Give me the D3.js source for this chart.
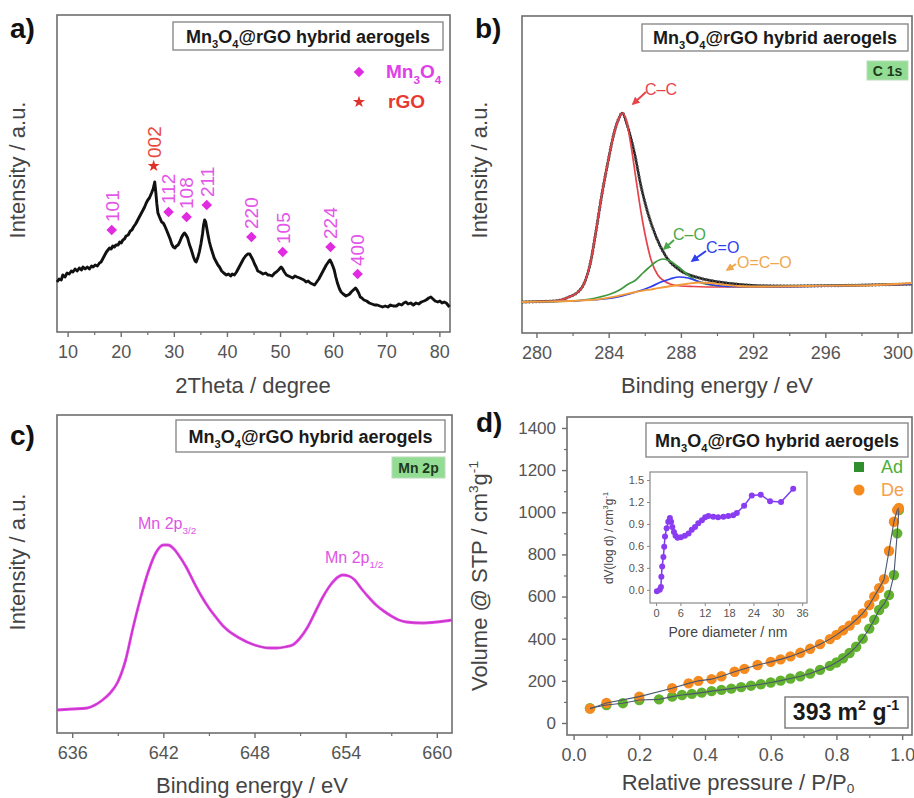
<!DOCTYPE html>
<html>
<head>
<meta charset="utf-8">
<script src="https://cdn.jsdelivr.net/npm/d3@7"></script>
<style>
  body { margin: 0; background: #fff; }
  svg { display: block; }
  text { font-family: "Liberation Sans", Arial, Helvetica, sans-serif; }
</style>
</head>
<body>
<svg id="fig" width="914" height="798"></svg>
<script>
// ---------- (a) XRD pattern: [2theta, intensity a.u.] ----------
const xrdPattern = [
  [8.0,50],[8.4,53],[8.8,52],[9.1,57],[9.5,55],[9.9,59],[10.3,58],[10.7,61],[11.0,60],[11.4,63],
  [11.8,61],[12.2,64],[12.6,62],[12.9,65],[13.3,63],[13.7,65],[14.1,63],[14.5,66],[14.8,65],[15.2,67],
  [15.6,66],[16.0,69],[16.3,70],[16.7,74],[17.0,77],[17.3,80],[17.6,82],[17.9,84],[18.2,83],[18.5,86],
  [18.8,85],[19.1,87],[19.5,87],[19.8,90],[20.1,89],[20.4,92],[20.7,93],[21.0,96],[21.4,97],[21.8,101],
  [22.1,102],[22.4,105],[22.8,108],[23.1,111],[23.5,115],[23.8,118],[24.2,122],[24.5,125],[24.8,129],[25.1,132],
  [25.4,134],[25.8,139],[26.1,143],[26.4,150],[26.6,140],[26.8,128],[27.0,119],[27.3,115],[27.7,110],[28.0,109],
  [28.3,106],[28.7,101],[29.0,97],[29.3,93],[29.6,88],[29.9,85],[30.2,84],[30.5,86],[30.8,87],[31.1,90],
  [31.4,94],[31.7,97],[32.0,99],[32.3,97],[32.6,94],[32.9,88],[33.3,82],[33.7,75],[34.0,71],[34.2,70],
  [34.5,74],[34.8,80],[35.1,88],[35.4,98],[35.6,107],[35.8,112],[36.0,110],[36.2,104],[36.4,98],[36.7,90],
  [37.0,84],[37.3,79],[37.6,74],[38.0,70],[38.3,67],[38.6,65],[39.0,61],[39.4,59],[39.9,57],[40.3,58],
  [40.7,56],[41.0,58],[41.4,57],[41.8,60],[42.2,64],[42.7,69],[43.1,73],[43.5,76],[43.9,78],[44.3,78],
  [44.6,75],[44.9,72],[45.2,68],[45.5,65],[45.8,61],[46.2,60],[46.8,58],[47.3,59],[47.7,57],[48.0,57],
  [48.5,56],[49.0,59],[49.3,60],[49.7,62],[50.2,65],[50.5,63],[50.8,60],[51.2,57],[51.6,56],[52.0,55],
  [52.4,54],[52.8,56],[53.2,55],[53.7,54],[54.1,53],[54.5,52],[54.9,50],[55.3,51],[55.7,49],[56.1,48],
  [56.5,47],[56.9,50],[57.3,53],[57.7,57],[58.1,61],[58.4,64],[58.7,67],[59.1,70],[59.4,72],[59.7,69],
  [60.0,65],[60.2,62],[60.5,55],[60.8,49],[61.2,43],[61.5,40],[61.9,38],[62.4,36],[62.8,37],[63.1,38],
  [63.4,40],[63.8,42],[64.2,44],[64.5,42],[64.8,39],[65.1,35],[65.4,34],[65.8,32],[66.3,31],[66.8,29],
  [67.3,28],[67.8,27],[68.3,27],[68.8,26],[69.3,25],[69.8,26],[70.3,25],[70.8,27],[71.3,26],[71.9,26],
  [72.4,28],[72.9,27],[73.3,29],[73.7,30],[74.1,28],[74.6,29],[75.1,27],[75.6,29],[76.1,28],[76.6,30],
  [77.1,31],[77.5,32],[78.0,34],[78.4,35],[78.8,33],[79.2,31],[79.7,30],[80.1,31],[80.5,29],[80.9,30],
  [81.3,29],[81.6,27],[81.9,25]
];
const hklLabels = ["101","002","112","108","211","220","105","224","400"];
const hklPhase  = ["Mn3O4","rGO","Mn3O4","Mn3O4","Mn3O4","Mn3O4","Mn3O4","Mn3O4","Mn3O4"];
const hklTheta  = [18.3, 26.2, 29.0, 32.4, 36.2, 44.6, 50.5, 59.5, 64.6];
const hklMark   = [102, 166, 120, 115, 127, 95, 80, 85, 58];
const thetaTicks = [10,20,30,40,50,60,70,80];
const thetaMinor = [15,25,35,45,55,65,75];

// ---------- (b) C 1s spectrum: [binding energy, intensity a.u.] ----------
const c1sEnvelope = [
  [279.2,31],[281.0,32],[281.8,36],[282.3,41],[282.6,48],[283.0,71],[283.3,102],[283.6,136],[283.95,170],
  [284.3,200],[284.6,216],[284.75,220],[285.06,206],[285.43,180],[285.8,146],[286.17,120],[286.63,96],
  [287.19,76],[287.92,63],[289.03,55],[290.51,50],[292.35,47.3],[294.0,47],[297.0,47.5],[300.8,49]
];
const c1sCC = [
  [279.2,31],[281.0,32],[281.8,36],[282.3,41],[282.6,48],[283.0,71],[283.3,102],[283.6,136],[283.95,170],
  [284.3,200],[284.6,216],[284.75,220],[284.97,213],[285.25,186],[285.52,153],[285.8,120],[286.08,93],
  [286.35,73],[286.72,58],[287.0,53],[287.4,49],[288.0,47],[288.7,46.5],[290.0,46],[292.0,46],[296.0,47],[300.8,49]
];
const c1sCO = [
  [279.2,31],[282.0,32],[283.0,34],[283.5,36],[284.1,39],[284.6,43],[285.1,49],[285.5,53],[285.9,60],
  [286.2,65],[286.6,71],[287.0,74],[287.4,72],[287.8,67],[288.2,61],[288.6,55],[289.0,51],[289.5,48.5],
  [290.2,47],[291.0,46.5],[293.0,46.5],[296.0,47],[300.8,49]
];
const c1sCdO = [
  [279.2,31],[283.0,33],[284.5,36],[285.5,41],[286.3,46],[286.9,51],[287.4,54],[287.9,56],[288.4,55],
  [288.9,52],[289.5,49],[290.2,47],[291.0,46.5],[294.0,46.5],[300.8,49]
];
const c1sOCO = [
  [279.2,31],[283.0,33],[284.5,37],[285.5,41],[286.5,44],[287.5,47],[288.3,49],[289.0,50.5],[289.6,50],
  [290.3,48.5],[291.2,47],[292.5,46.5],[295.0,47],[298.0,47.5],[300.8,50]
];
const beTicksB = [280,284,288,292,296,300];
const beMinorB = [282,286,290,294,298];

// ---------- (c) Mn 2p spectrum: [binding energy, intensity a.u.] ----------
const mn2p = [
  [635,23],[636,24],[637,25],[637.5,28],[638,33],[638.5,40],[639,51],[639.5,72],[640,105],[640.5,135],
  [641,161],[641.5,180],[642,188],[642.3,188],[642.7,184],[643,178],[643.5,166],[644,151],[644.5,137],
  [645,125],[645.5,115],[646,106],[647,95],[648,88],[649,85],[649.5,85],[650,86],[650.5,88],[651,95],
  [651.5,106],[652,121],[652.5,136],[653,148],[653.5,156],[653.8,158],[654.2,157],[654.6,153],[655,145],
  [655.5,136],[656,128],[656.5,122],[657,117],[657.5,113],[658,111],[659,110],[660,111],[661,113]
];
const beTicksC = [636,642,648,654,660];
const beMinorC = [639,645,651,657];

// ---------- (d) N2 isotherm: [P/P0, volume cm3/g] ----------
const adsorption = [
  [0.05,70],[0.10,85],[0.15,94],[0.20,109],[0.26,112],[0.30,125],[0.33,133],[0.36,138],[0.39,144],
  [0.42,151],[0.45,157],[0.48,163],[0.51,170],[0.54,177],[0.57,184],[0.60,192],[0.63,201],[0.66,211],
  [0.69,222],[0.72,235],[0.75,252],[0.78,271],[0.80,287],[0.82,307],[0.84,332],[0.86,362],[0.88,400],
  [0.90,448],[0.915,490],[0.93,536],[0.945,565],[0.96,607],[0.975,702],[0.985,900],[0.99,1010]
];
const desorption = [
  [0.05,68],[0.10,95],[0.20,125],[0.30,165],[0.35,188],[0.38,200],[0.42,208],[0.45,222],[0.49,243],
  [0.52,257],[0.56,275],[0.60,290],[0.63,302],[0.66,316],[0.69,333],[0.72,352],[0.75,374],[0.78,398],
  [0.80,418],[0.82,440],[0.84,462],[0.86,490],[0.88,520],[0.90,560],[0.915,600],[0.93,640],[0.945,682],
  [0.96,816],[0.975,955],[0.985,1010],[0.99,1020]
];
const ppTicks = [0,0.2,0.4,0.6,0.8,1.0];
const ppMinor = [0.1,0.3,0.5,0.7,0.9];
const volTicks = [0,200,400,600,800,1000,1200,1400];
const volMinor = [100,300,500,700,900,1100,1300];

// inset: pore size distribution [diameter nm, dV(log d)]
const poreDist = [
  [0.2,-0.02],[0.9,0.0],[1.2,0.04],[1.3,0.18],[1.5,0.32],[1.8,0.45],[2.0,0.59],[2.2,0.73],[2.6,0.84],
  [3.0,0.93],[3.4,0.98],[3.7,0.93],[4.0,0.86],[4.4,0.79],[4.8,0.74],[5.3,0.71],[6.1,0.72],[7.1,0.74],
  [8.0,0.77],[8.8,0.82],[9.6,0.86],[10.4,0.91],[11.3,0.95],[12.1,0.99],[12.9,1.01],[14.1,1.00],
  [15.3,0.99],[16.6,1.00],[17.8,1.01],[19.0,1.02],[19.9,1.05],[21.7,1.15],[23.6,1.29],[25.8,1.30],
  [28.1,1.21],[30.8,1.20],[33.8,1.38]
];
const poreTicks = [0,6,12,18,24,30,36];
const dvTicks = [0,0.3,0.6,0.9,1.2,1.5];

// ---------- drawing ----------
const svg = d3.select("#fig");
const FRAME = "#6e6e6e", TICKTXT = "#555", TITLE = "#444";

function rich(sel, parts, fs, subShift) {
  // parts: [text, "n" | "sub" | "sup"]
  const sub = subShift === undefined ? 0.3 : subShift;
  let shift = 0;
  parts.forEach(([t, k]) => {
    const target = k === "sub" ? sub * fs : k === "sup" ? -0.42 * fs : 0;
    sel.append("tspan").attr("dy", target - shift)
      .attr("font-size", k === "n" ? fs : fs * 0.62).text(t);
    shift = target;
  });
  return sel;
}

function frame(x, y) {
  svg.append("rect")
    .attr("x", x.range()[0]).attr("y", y.range()[1])
    .attr("width", x.range()[1] - x.range()[0])
    .attr("height", y.range()[0] - y.range()[1])
    .attr("fill", "none").attr("stroke", FRAME).attr("stroke-width", 1.6);
}

function xAxis(x, yPix, majors, minors, fmt, fs, tick) {
  tick = tick || 5;
  const g = svg.append("g").attr("transform", `translate(0,${yPix})`)
    .call(d3.axisBottom(x).tickValues(majors).tickSize(tick).tickPadding(8).tickFormat(fmt));
  g.select(".domain").remove();
  g.selectAll("line").attr("stroke", FRAME).attr("stroke-width", 1.4);
  g.selectAll("text").attr("fill", TICKTXT).attr("font-size", fs)
    .attr("font-family", '"Liberation Sans", Arial, sans-serif');
  if (minors) {
    const m = svg.append("g").attr("transform", `translate(0,${yPix})`)
      .call(d3.axisBottom(x).tickValues(minors).tickSize(tick * 0.6).tickFormat(""));
    m.select(".domain").remove();
    m.selectAll("line").attr("stroke", FRAME).attr("stroke-width", 1.2);
  }
  return g;
}

function yAxisLeft(y, xPix, majors, minors, fmt, fs, tick, pad) {
  const g = svg.append("g").attr("transform", `translate(${xPix},0)`)
    .call(d3.axisLeft(y).tickValues(majors).tickSize(tick).tickPadding(pad).tickFormat(fmt));
  g.select(".domain").remove();
  g.selectAll("line").attr("stroke", FRAME).attr("stroke-width", 1.4);
  g.selectAll("text").attr("fill", TICKTXT).attr("font-size", fs)
    .attr("font-family", '"Liberation Sans", Arial, sans-serif');
  if (minors) {
    const m = svg.append("g").attr("transform", `translate(${xPix},0)`)
      .call(d3.axisLeft(y).tickValues(minors).tickSize(tick * 0.6).tickFormat(""));
    m.select(".domain").remove();
    m.selectAll("line").attr("stroke", FRAME).attr("stroke-width", 1.2);
  }
}

function xTitle(cx, cy, parts, subShift) {
  rich(svg.append("text").attr("x", cx).attr("y", cy).attr("text-anchor", "middle")
    .attr("fill", TITLE), parts, 22, subShift);
}
function yTitle(cx, cy, parts, fs, color) {
  rich(svg.append("text").attr("transform", `translate(${cx},${cy}) rotate(-90)`)
    .attr("text-anchor", "middle").attr("dy", "0.35em").attr("fill", color || TITLE), parts, fs || 22);
}
function panelLetter(x, y, s) {
  svg.append("text").attr("x", x).attr("y", y).attr("font-size", 28)
    .attr("font-weight", "bold").attr("fill", "#111").text(s);
}
function sampleBox(x0, y0, x1, y1) {
  svg.append("rect").attr("x", x0).attr("y", y0).attr("width", x1 - x0).attr("height", y1 - y0)
    .attr("fill", "#fff").attr("stroke", "#8a8a8a").attr("stroke-width", 1.4);
  const t = svg.append("text").attr("x", (x0 + x1) / 2).attr("y", (y0 + y1) / 2 + 6.5)
    .attr("text-anchor", "middle").attr("font-weight", "bold").attr("fill", "#1a1a1a");
  rich(t, [["Mn","n"],["3","sub"],["O","n"],["4","sub"],["@rGO hybrid aerogels","n"]], 18);
}
function tagBox(x0, y0, x1, y1, label) {
  svg.append("rect").attr("x", x0).attr("y", y0).attr("width", x1 - x0).attr("height", y1 - y0)
    .attr("fill", "#93dc93").attr("stroke", "#b9dcb9").attr("stroke-width", 1);
  svg.append("text").attr("x", (x0 + x1) / 2).attr("y", (y0 + y1) / 2 + 5)
    .attr("text-anchor", "middle").attr("font-weight", "bold").attr("font-size", 14)
    .attr("fill", "#1d3a1d").text(label);
}

// ===== panel a =====
{
  const x = d3.scaleLinear([8, 82], [57, 450]);
  const y = d3.scaleLinear([0, 317], [332, 15]);
  frame(x, y);
  xAxis(x, 332, thetaTicks, thetaMinor, d3.format("d"), 18);
  xTitle(253, 393, [["2Theta / degree","n"]]);
  yTitle(25, 170, [["Intensity / a.u.","n"]]);
  panelLetter(10, 38, "a)");

  svg.append("path").datum(xrdPattern)
    .attr("fill", "none").attr("stroke", "#111").attr("stroke-width", 2.9)
    .attr("stroke-linejoin", "round")
    .attr("d", d3.line().x(d => x(d[0])).y(d => y(d[1])));

  const diamond = d3.symbol().type(d3.symbolSquare).size(56);
  const star = d3.symbol().type(d3.symbolStar).size(45);
  hklLabels.forEach((lab, i) => {
    const px = x(hklTheta[i]), py = y(hklMark[i]);
    const isMn = hklPhase[i] === "Mn3O4";
    svg.append("path").attr("d", isMn ? diamond() : star())
      .attr("transform", `translate(${px},${py})` + (isMn ? " rotate(45)" : ""))
      .attr("fill", isMn ? "#e02be0" : "#e0302a");
    svg.append("text").attr("transform", `translate(${px},${py - 8}) rotate(-90)`)
      .attr("dy", "0.36em").attr("font-size", 19)
      .attr("fill", isMn ? "#e356e8" : "#e8493f").text(lab);
  });

  sampleBox(173, 22, 443, 50);
  svg.append("path").attr("d", diamond()).attr("transform", "translate(359,72) rotate(45)").attr("fill", "#e02be0");
  rich(svg.append("text").attr("x", 386).attr("y", 78).attr("font-weight", "bold").attr("fill", "#e040e8"),
    [["Mn","n"],["3","sub"],["O","n"],["4","sub"]], 19);
  svg.append("path").attr("d", star()).attr("transform", "translate(359,102)").attr("fill", "#e0302a");
  svg.append("text").attr("x", 388).attr("y", 108).attr("font-weight", "bold").attr("font-size", 19)
    .attr("fill", "#e8382f").text("rGO");
}

// ===== panel b =====
{
  const x = d3.scaleLinear([279.2, 300.8], [522, 912]);
  const y = d3.scaleLinear([0, 317], [333, 16]);
  frame(x, y);
  xAxis(x, 333, beTicksB, beMinorB, d3.format("d"), 18);
  xTitle(717, 393, [["Binding energy / eV","n"]]);
  yTitle(487, 170, [["Intensity / a.u.","n"]]);
  panelLetter(475, 38, "b)");

  const line = d3.line().x(d => x(d[0])).y(d => y(d[1])).curve(d3.curveMonotoneX);
  const draw = (data, color, w) => svg.append("path").datum(data).attr("fill", "none")
    .attr("stroke", color).attr("stroke-width", w).attr("d", line);
  draw(c1sEnvelope, "#1f1f1f", 2.4);
  svg.append("path").datum(c1sEnvelope).attr("fill", "none").attr("stroke", "#555")
    .attr("stroke-width", 3.2).attr("stroke-dasharray", "1.2,2.2").attr("d", line);
  draw(c1sCC, "#e8424a", 1.7);
  draw(c1sCO, "#3f9a3f", 1.7);
  draw(c1sCdO, "#2f3ff0", 1.7);
  draw(c1sOCO, "#f39a3a", 1.8);

  // component labels with pointer arrows
  const defs = svg.append("defs");
  const labels = [
    { t: "C–C",   c: "#e8444c", tx: 645, ty: 95,  a: [646, 92, 633, 104] },
    { t: "C–O",   c: "#4aa84a", tx: 673, ty: 240, a: [674, 240, 664, 249] },
    { t: "C=O",   c: "#3040f0", tx: 706, ty: 253, a: [706, 251, 692, 261] },
    { t: "O=C–O", c: "#f0a850", tx: 737, ty: 268, a: [736, 264, 727, 270] }
  ];
  labels.forEach((l, i) => {
    defs.append("marker").attr("id", "arr" + i).attr("viewBox", "0 0 10 10")
      .attr("refX", 8).attr("refY", 5).attr("markerWidth", 4).attr("markerHeight", 4)
      .attr("orient", "auto").append("path").attr("d", "M0,0L10,5L0,10z").attr("fill", l.c);
    svg.append("line").attr("x1", l.a[0]).attr("y1", l.a[1]).attr("x2", l.a[2]).attr("y2", l.a[3])
      .attr("stroke", l.c).attr("stroke-width", 2).attr("marker-end", `url(#arr${i})`);
    svg.append("text").attr("x", l.tx).attr("y", l.ty).attr("font-size", 16)
      .attr("fill", l.c).text(l.t);
  });

  sampleBox(642, 24, 908, 51);
  tagBox(867, 61, 908, 80, "C 1s");
}

// ===== panel c =====
{
  const x = d3.scaleLinear([635, 661], [57, 452]);
  const y = d3.scaleLinear([0, 318], [733, 415]);
  frame(x, y);
  xAxis(x, 733, beTicksC, beMinorC, d3.format("d"), 18);
  xTitle(252, 793, [["Binding energy / eV","n"]]);
  yTitle(25, 562, [["Intensity / a.u.","n"]]);
  panelLetter(10, 445, "c)");

  const line = d3.line().x(d => x(d[0])).y(d => y(d[1])).curve(d3.curveMonotoneX);
  svg.append("path").datum(mn2p).attr("fill", "none").attr("stroke", "#e444ea")
    .attr("stroke-width", 2.8).attr("d", line);
  svg.append("path").datum(mn2p).attr("fill", "none").attr("stroke", "#b034aa")
    .attr("stroke-width", 0.8).attr("d", line);

  rich(svg.append("text").attr("x", 138).attr("y", 529).attr("fill", "#e052e6"),
    [["Mn 2p","n"],["3/2","sub"]], 16);
  rich(svg.append("text").attr("x", 325).attr("y", 563).attr("fill", "#e052e6"),
    [["Mn 2p","n"],["1/2","sub"]], 16);

  sampleBox(176, 420, 445, 452);
  tagBox(392, 457, 445, 478, "Mn 2p");
}

// ===== panel d =====
{
  const x = d3.scaleLinear([-0.02, 1.03], [567, 912]);
  const y = d3.scaleLinear([-57, 1452], [735, 417]);
  frame(x, y);
  xAxis(x, 735, ppTicks, ppMinor, d3.format(".1f"), 18);
  yAxisLeft(y, 567, volTicks, volMinor, d3.format("d"), 17, 5, 6);
  xTitle(738, 790, [["Relative pressure / P/P","n"],["0","sub"]], 0.12);
  yTitle(487, 576, [["Volume @ STP / cm","n"],["3","sup"],["g","n"],["-1","sup"]]);
  panelLetter(476, 432, "d)");

  const line = d3.line().x(d => x(d[0])).y(d => y(d[1]));
  [[adsorption, "#62b22f"], [desorption, "#f58a1f"]].forEach(([data, col]) => {
    svg.append("g").selectAll("circle").data(data).join("circle")
      .attr("cx", d => x(d[0])).attr("cy", d => y(d[1])).attr("r", 5.2).attr("fill", col);
  });
  svg.append("path").datum(adsorption).attr("fill", "none").attr("stroke", "#4b5570")
    .attr("stroke-width", 1.1).attr("d", line);
  svg.append("path").datum(desorption).attr("fill", "none").attr("stroke", "#4b5570")
    .attr("stroke-width", 1.1).attr("d", line);

  // legend
  svg.append("rect").attr("x", 854).attr("y", 462).attr("width", 10).attr("height", 10).attr("fill", "#2f8f2f");
  svg.append("text").attr("x", 881).attr("y", 473).attr("font-size", 18).attr("fill", "#4caf3a").text("Ad");
  svg.append("circle").attr("cx", 859).attr("cy", 490).attr("r", 5.5).attr("fill", "#f58a1f");
  svg.append("text").attr("x", 881).attr("y", 496).attr("font-size", 18).attr("fill", "#f5a04a").text("De");

  sampleBox(646, 423, 908, 457);

  // surface area box
  svg.append("rect").attr("x", 785).attr("y", 697).attr("width", 123).attr("height", 31)
    .attr("fill", "#fff").attr("stroke", "#777").attr("stroke-width", 1.4);
  rich(svg.append("text").attr("x", 846).attr("y", 720).attr("text-anchor", "middle")
    .attr("font-weight", "bold").attr("fill", "#1a1a1a"),
    [["393 m","n"],["2","sup"],[" g","n"],["-1","sup"]], 23);

  // inset: pore size distribution
  const xi = d3.scaleLinear([-1.5, 37.2], [650, 807]);
  const yi = d3.scaleLinear([-0.18, 1.61], [603, 472]);
  svg.append("rect").attr("x", 650).attr("y", 472).attr("width", 157).attr("height", 131)
    .attr("fill", "#fff").attr("stroke", "#8a8a8a").attr("stroke-width", 1.2);
  const gx = svg.append("g").attr("transform", "translate(0,603)")
    .call(d3.axisBottom(xi).tickValues(poreTicks).tickSize(3).tickPadding(3).tickFormat(d3.format("d")));
  gx.select(".domain").remove();
  gx.selectAll("line").attr("stroke", "#888");
  gx.selectAll("text").attr("fill", TICKTXT).attr("font-size", 11)
    .attr("font-family", '"Liberation Sans", Arial, sans-serif');
  const gy = svg.append("g").attr("transform", "translate(650,0)")
    .call(d3.axisLeft(yi).tickValues(dvTicks).tickSize(3).tickPadding(3).tickFormat(d3.format(".1f")));
  gy.select(".domain").remove();
  gy.selectAll("line").attr("stroke", "#888");
  gy.selectAll("text").attr("fill", TICKTXT).attr("font-size", 11)
    .attr("font-family", '"Liberation Sans", Arial, sans-serif');
  svg.append("text").attr("x", 728).attr("y", 637).attr("text-anchor", "middle")
    .attr("font-size", 14).attr("fill", TITLE).text("Pore diameter / nm");
  yTitle(613, 538, [["dV(log d) / cm","n"],["3","sup"],["g","n"],["-1","sup"]], 12);

  svg.append("path").datum(poreDist).attr("fill", "none").attr("stroke", "#7a3cf0")
    .attr("stroke-width", 1.5).attr("d", d3.line().x(d => xi(d[0])).y(d => yi(d[1])));
  svg.append("g").selectAll("circle").data(poreDist).join("circle")
    .attr("cx", d => xi(d[0])).attr("cy", d => yi(d[1])).attr("r", 3).attr("fill", "#8a3cf2");
}
</script>
</body>
</html>
